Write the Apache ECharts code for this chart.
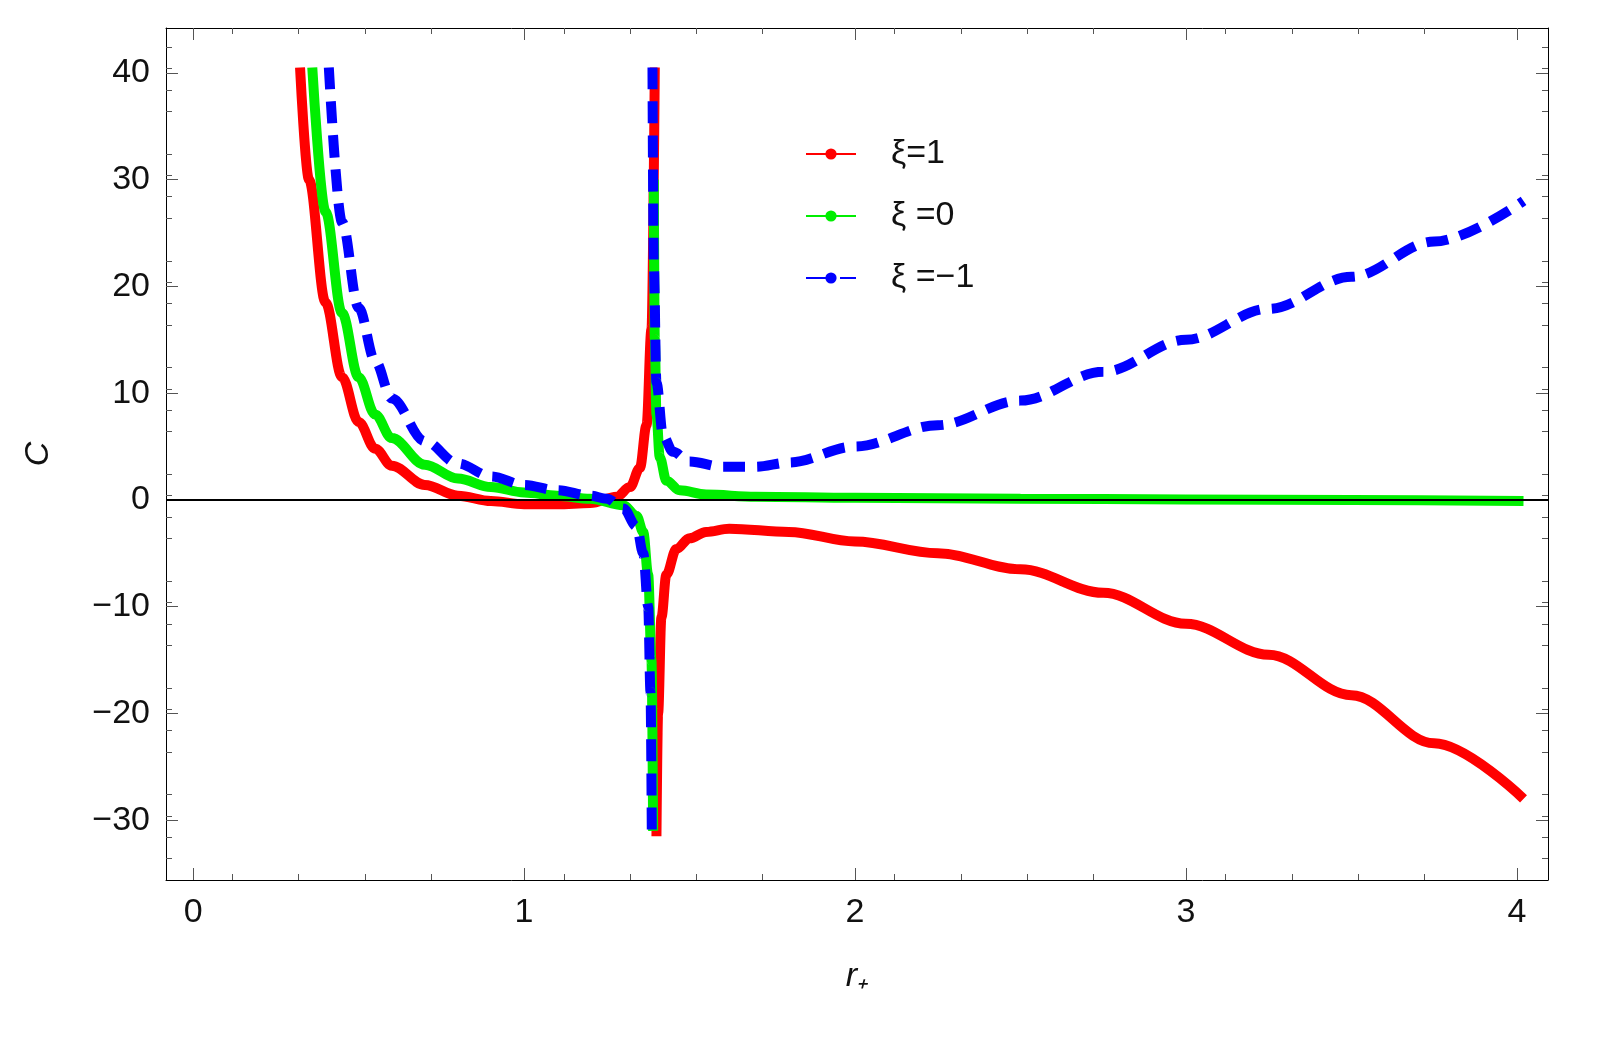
<!DOCTYPE html>
<html>
<head>
<meta charset="utf-8">
<script src="https://cdn.jsdelivr.net/npm/echarts@6/dist/echarts.min.js"></script>
<style>html,body{margin:0;padding:0;background:#fff}#chart{width:1622px;height:1051px}</style>
</head>
<body>
<div id="chart"></div>
<script>
// ξ = 1, two branches split by null
const redX = [0.323, 0.35, 0.4, 0.45, 0.5, 0.55, 0.6, 0.7, 0.8, 0.9, 1.0, 1.1, 1.2, 1.28, 1.32, 1.35, 1.37, 1.385, 1.395, null,
  1.40, 1.405, 1.415, 1.43, 1.46, 1.5, 1.55, 1.62, 1.8, 2.0, 2.25, 2.5, 2.75, 3.0, 3.25, 3.5, 3.75, 4.02];
const redY = [40.5, 30, 18.5, 11.5, 7.3, 4.8, 3.2, 1.4, 0.4, -0.1, -0.4, -0.4, -0.3, 0.3, 1.2, 3, 7, 16, 40.5, null,
  -31.5, -20, -11, -7, -4.6, -3.6, -3, -2.7, -3, -3.9, -5, -6.5, -8.7, -11.6, -14.5, -18.3, -22.8, -28];
// ξ = 0
const greenX = [0.36, 0.4, 0.45, 0.5, 0.55, 0.6, 0.7, 0.8, 0.9, 1.0, 1.1, 1.2, 1.3, 1.34, 1.36, 1.375, 1.385, 1.39, null,
  1.392, 1.395, 1.4, 1.41, 1.43, 1.47, 1.55, 1.7, 2.0, 2.5, 3.0, 3.5, 4.02];
const greenY = [40.5, 27, 17.5, 11.5, 8, 5.8, 3.3, 2, 1.2, 0.7, 0.4, 0.1, -0.5, -1.5, -3, -7, -15, -31, null,
  30, 15, 8, 4, 1.8, 0.9, 0.5, 0.3, 0.2, 0.1, 0.05, 0, -0.1];
// ξ = -1
const blueX = [0.41, 0.45, 0.5, 0.55, 0.6, 0.7, 0.8, 0.9, 1.0, 1.1, 1.2, 1.25, 1.3, 1.34, 1.36, 1.375, 1.382, 1.386, null,
  1.388, 1.392, 1.4, 1.42, 1.45, 1.5, 1.6, 1.7, 1.8, 2.0, 2.25, 2.5, 2.75, 3.0, 3.25, 3.5, 3.75, 4.02];
const blueY = [40.5, 26, 18, 13, 9.5, 5.5, 3.4, 2.2, 1.4, 0.9, 0.4, 0.1, -0.8, -2.5, -5, -10, -18, -31.5, null,
  40.5, 22, 11, 6, 4.5, 3.6, 3.1, 3.1, 3.5, 5, 7, 9.3, 12, 15, 17.9, 20.9, 24.2, 28];
const xTicks = [0, 1, 2, 3, 4];
const yTicks = [-30, -20, -10, 0, 10, 20, 30, 40];

const pairs = (xs, ys) => xs.map((x, i) => x === null ? [null, null] : [x, ys[i]]);
const font = 'Liberation Sans, Arial, sans-serif';
const chart = echarts.init(document.getElementById('chart'));
const tickSet = (show, ticks) => ({
  axisLine: {show: true, onZero: false, lineStyle: {color: '#000', width: 1}},
  axisTick: {show: true, inside: true, length: 12, lineStyle: {color: '#555'}, customValues: ticks},
  minorTick: {show: true, splitNumber: 5, length: 6, lineStyle: {color: '#555'}},
  splitLine: {show: false},
  axisLabel: {show: show, fontSize: 34, fontFamily: font, color: '#111', margin: 16, customValues: ticks,
    formatter: v => String(v).replace('-', '\u2212')}
});
const lineBase = {type: 'line', symbol: 'none', connectNulls: false, smooth: 0.35, smoothMonotone: 'x'};

chart.setOption({
  animation: false,
  grid: {left: 166, right: 74, top: 28, bottom: 171},
  legend: {
    orient: 'vertical', left: 800, top: 132, itemGap: 28, itemWidth: 50, itemHeight: 14,
    textStyle: {fontSize: 34, fontFamily: font, color: '#111', padding: [0, 0, 0, 30]},
    lineStyle: {width: 2},
    data: ['ξ=1', 'ξ =0', 'ξ =\u22121']
  },
  xAxis: [
    Object.assign({type: 'value', min: -0.082, max: 4.094, interval: 1,
      name: 'r₊', nameLocation: 'middle', nameGap: 80,
      nameTextStyle: {fontSize: 34, fontStyle: 'italic', fontFamily: font, color: '#111'}}, tickSet(true, xTicks)),
    Object.assign({type: 'value', position: 'top', min: -0.082, max: 4.094, interval: 1}, tickSet(false, xTicks))
  ],
  yAxis: [
    Object.assign({type: 'value', min: -35.6, max: 44.2, interval: 10,
      name: 'C', nameLocation: 'middle', nameGap: 110, nameRotate: 90,
      nameTextStyle: {fontSize: 34, fontStyle: 'italic', fontFamily: font, color: '#111'}}, tickSet(true, yTicks)),
    Object.assign({type: 'value', position: 'right', min: -35.6, max: 44.2, interval: 10}, tickSet(false, yTicks))
  ],
  series: [
    Object.assign({name: 'ξ=1', data: pairs(redX, redY),
      color: '#ff0000', lineStyle: {width: 10, color: '#ff0000'}, z: 3,
      markLine: {silent: true, symbol: 'none', label: {show: false},
        lineStyle: {color: '#000', width: 2, type: 'solid'}, data: [{yAxis: 0}]}}, lineBase),
    Object.assign({name: 'ξ =0', data: pairs(greenX, greenY),
      color: '#00ee00', lineStyle: {width: 10, color: '#00ee00'}, z: 4}, lineBase),
    Object.assign({name: 'ξ =\u22121', data: pairs(blueX, blueY),
      color: '#0000ff', lineStyle: {width: 10, color: '#0000ff', type: [22, 12]}, z: 5}, lineBase)
  ]
});
</script>
</body>
</html>
